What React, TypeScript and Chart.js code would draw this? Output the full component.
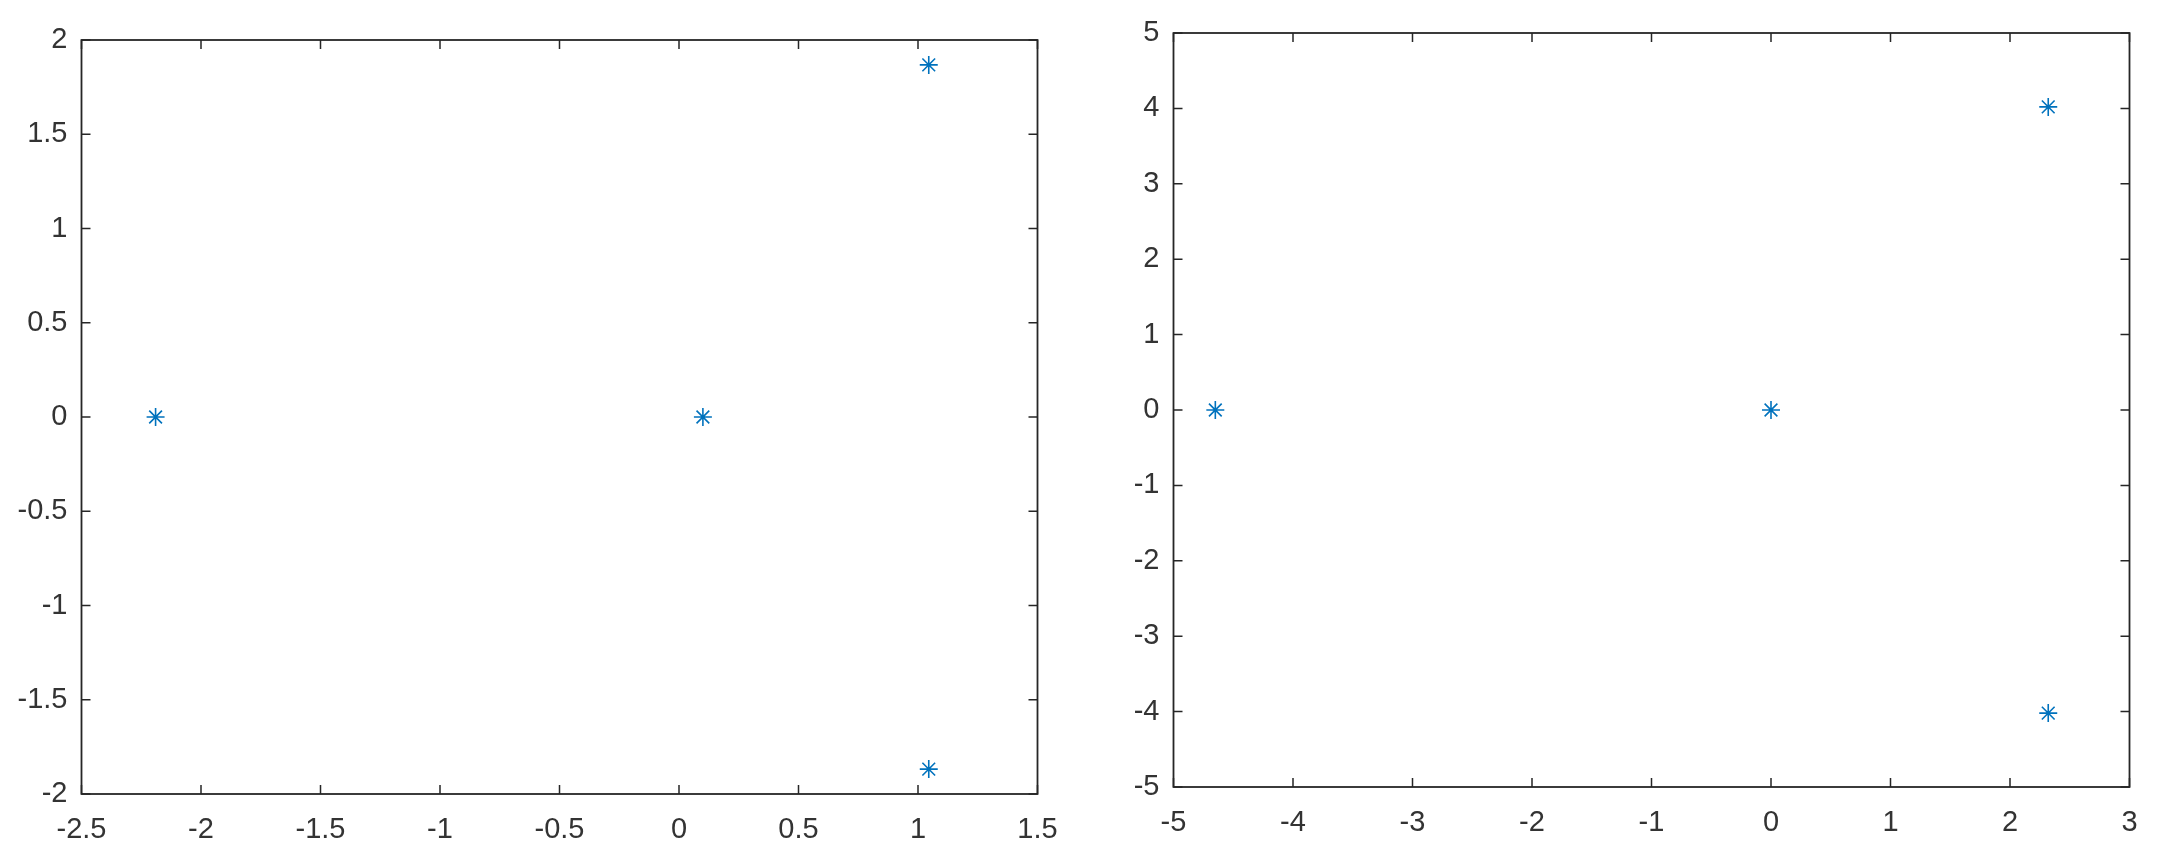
import React, { useEffect, useRef } from "react";
import { Chart, registerables } from "chart.js";

Chart.register(...registerables);

// Left plot data
const leftX = [-2.19, 0.1, 1.045, 1.045];
const leftY = [0, 0, 1.868, -1.868];
const leftXTicks = [-2.5, -2, -1.5, -1, -0.5, 0, 0.5, 1, 1.5];
const leftYTicks = [-2, -1.5, -1, -0.5, 0, 0.5, 1, 1.5, 2];

// Right plot data
const rightX = [-4.65, 0, 2.32, 2.32];
const rightY = [0, 0, 4.02, -4.02];
const rightXTicks = [-5, -4, -3, -2, -1, 0, 1, 2, 3];
const rightYTicks = [-5, -4, -3, -2, -1, 0, 1, 2, 3, 4, 5];

const AXIS_COLOR = "#262626";
const LABEL_COLOR = "#333333";
const MARK_COLOR = "#0072BD";
const FONT = { family: "'Liberation Sans', Arial, sans-serif", size: 29 };

const boxPlugin = {
  id: "matlabBox",
  beforeDatasetsDraw(chart: any) {
    const { ctx, chartArea } = chart;
    const xs = chart.scales.x;
    const ys = chart.scales.y;
    const tl = 9;
    ctx.save();
    ctx.strokeStyle = AXIS_COLOR;
    ctx.lineWidth = 1.5;
    ctx.beginPath();
    for (const t of xs.ticks) {
      const px = xs.getPixelForValue(t.value);
      ctx.moveTo(px, chartArea.bottom);
      ctx.lineTo(px, chartArea.bottom - tl);
      ctx.moveTo(px, chartArea.top);
      ctx.lineTo(px, chartArea.top + tl);
    }
    for (const t of ys.ticks) {
      const py = ys.getPixelForValue(t.value);
      ctx.moveTo(chartArea.left, py);
      ctx.lineTo(chartArea.left + tl, py);
      ctx.moveTo(chartArea.right, py);
      ctx.lineTo(chartArea.right - tl, py);
    }
    ctx.stroke();
    ctx.lineWidth = 1.8;
    ctx.strokeRect(
      chartArea.left,
      chartArea.top,
      chartArea.right - chartArea.left,
      chartArea.bottom - chartArea.top
    );
    ctx.restore();
  },
};

type PlotProps = {
  xs: number[];
  ys: number[];
  xTicks: number[];
  yTicks: number[];
  left: number;
  width: number;
  yAxisWidth: number;
  xAxisHeight: number;
  padTop: number;
  padRight: number;
};

function Plot(p: PlotProps) {
  const ref = useRef<HTMLCanvasElement | null>(null);
  useEffect(() => {
    if (!ref.current) return;
    const chart = new Chart(ref.current, {
      type: "scatter",
      data: {
        datasets: [
          {
            data: p.xs.map((x, i) => ({ x, y: p.ys[i] })),
            pointStyle: "star",
            pointRadius: 9,
            pointBorderWidth: 1.6,
            borderColor: MARK_COLOR,
            backgroundColor: MARK_COLOR,
            showLine: false,
          },
        ],
      },
      options: {
        responsive: false,
        animation: false,
        devicePixelRatio: 1,
        layout: { padding: { top: p.padTop, right: p.padRight, left: 0, bottom: 0 } },
        plugins: { legend: { display: false }, tooltip: { enabled: false } },
        scales: {
          x: {
            type: "linear",
            min: p.xTicks[0],
            max: p.xTicks[p.xTicks.length - 1],
            afterBuildTicks: (s: any) => {
              s.ticks = p.xTicks.map((v) => ({ value: v }));
            },
            afterFit: (s: any) => {
              s.height = p.xAxisHeight;
            },
            grid: { display: false, drawTicks: false },
            border: { display: false },
            ticks: {
              color: LABEL_COLOR,
              font: FONT,
              padding: 19,
              maxRotation: 0,
              autoSkip: false,
              callback: (v: any) => String(v),
            },
          },
          y: {
            type: "linear",
            min: p.yTicks[0],
            max: p.yTicks[p.yTicks.length - 1],
            afterBuildTicks: (s: any) => {
              s.ticks = p.yTicks.map((v) => ({ value: v }));
            },
            afterFit: (s: any) => {
              s.width = p.yAxisWidth;
            },
            grid: { display: false, drawTicks: false },
            border: { display: false },
            ticks: {
              color: LABEL_COLOR,
              font: FONT,
              padding: 14,
              autoSkip: false,
              callback: (v: any) => String(v),
            },
          },
        },
      },
      plugins: [boxPlugin],
    } as any);
    return () => chart.destroy();
  }, []);
  return (
    <canvas
      ref={ref}
      width={p.width}
      height={857}
      style={{ position: "absolute", left: p.left, top: 0, width: p.width, height: 857 }}
    />
  );
}

export default function App() {
  return (
    <div
      style={{
        position: "absolute",
        left: 0,
        top: 0,
        width: 2159,
        height: 857,
        background: "#ffffff",
      }}
    >
      <Plot
        xs={leftX}
        ys={leftY}
        xTicks={leftXTicks}
        yTicks={leftYTicks}
        left={0}
        width={1090}
        yAxisWidth={81.5}
        xAxisHeight={63}
        padTop={40}
        padRight={52.5}
      />
      <Plot
        xs={rightX}
        ys={rightY}
        xTicks={rightXTicks}
        yTicks={rightYTicks}
        left={1090}
        width={1069}
        yAxisWidth={83.5}
        xAxisHeight={70}
        padTop={33}
        padRight={29.5}
      />
    </div>
  );
}
